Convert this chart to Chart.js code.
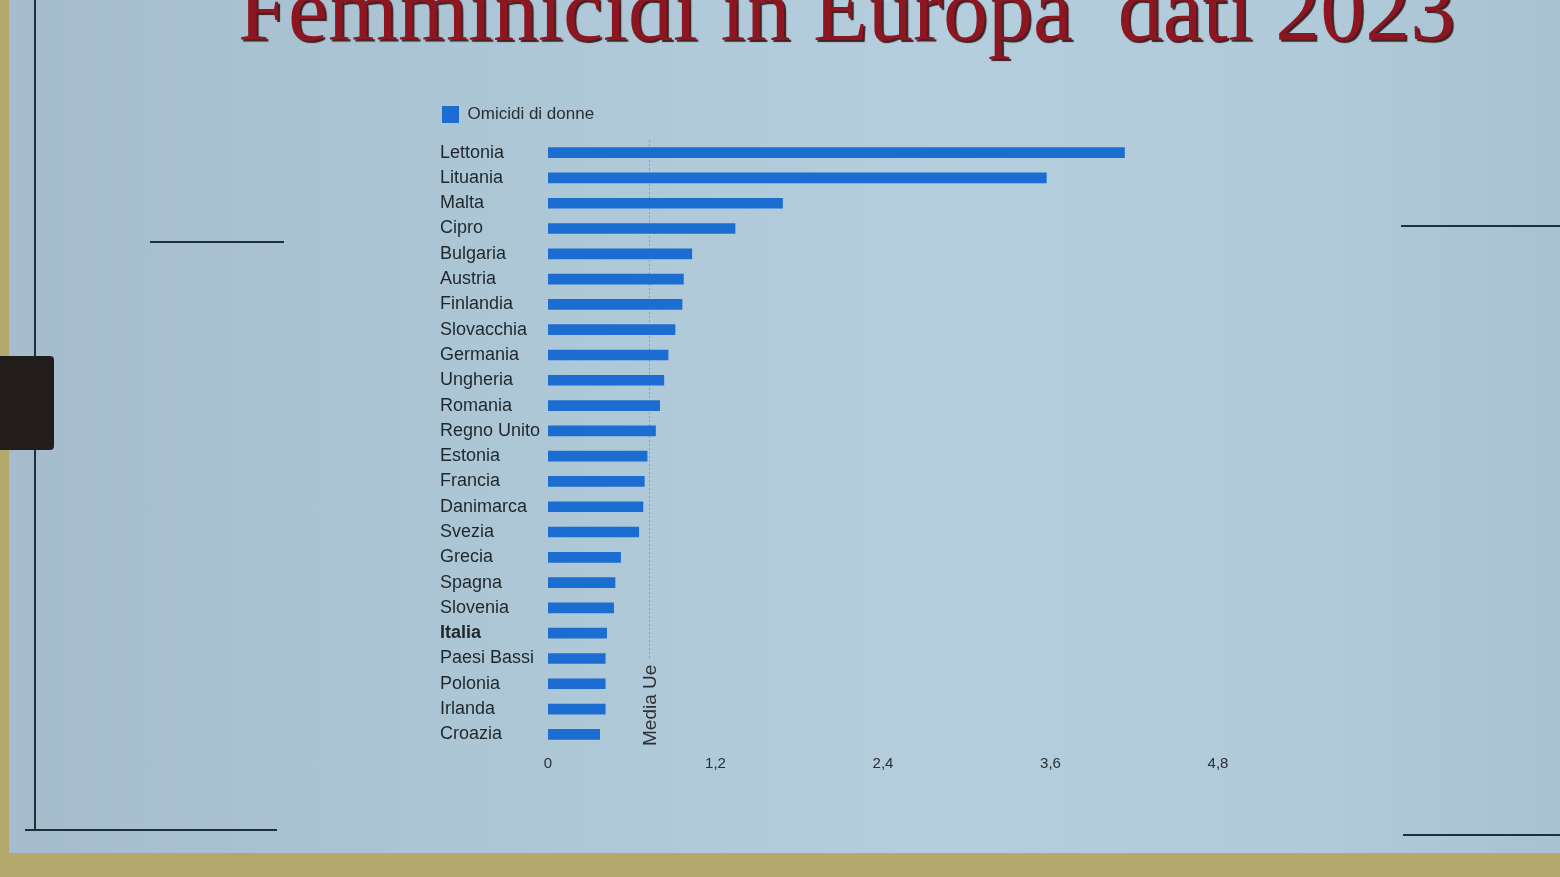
<!DOCTYPE html>
<html lang="it">
<head>
<meta charset="utf-8">
<title>Femminicidi in Europa dati 2023</title>
<script src="https://cdn.jsdelivr.net/npm/chart.js@4.4.1/dist/chart.umd.min.js"></script>
<style>
  html, body { margin: 0; padding: 0; }
  body {
    width: 1560px; height: 877px; overflow: hidden; position: relative;
    background: #b4a96c;
    font-family: "Liberation Sans", Arial, sans-serif;
  }
  /* slide as photographed */
  .slide {
    position: absolute; left: 9px; top: 0; width: 1551px; height: 853px;
    background: linear-gradient(90deg, #a4bccb 0%, #adc6d5 30%, #b4cedd 60%, #b0cad9 85%, #a9c2d1 100%);
  }
  .line { position: absolute; background: #1d3138; }
  .title {
    position: absolute; left: 238px; top: -35px; white-space: nowrap;
    font-family: "Liberation Serif", "Times New Roman", serif;
    font-size: 90px; line-height: 90px; color: #8e1620;
    text-shadow: 2px 2px 1px #3b2024;
  }
  .tab { position: absolute; left: 0; top: 356px; width: 54px; height: 94px; background: #231c1c; border-radius: 0 4px 4px 0; }
  #wrap { position: absolute; left: 440px; top: 104px; width: 800px; height: 669px; }
</style>
</head>
<body>
<div class="slide"></div>
<div class="line" style="left:34px; top:0; width:2px; height:831px;"></div>
<div class="line" style="left:25px; top:829px; width:252px; height:2px;"></div>
<div class="line" style="left:150px; top:241px; width:134px; height:2px;"></div>
<div class="line" style="left:1401px; top:225px; width:159px; height:2px;"></div>
<div class="line" style="left:1403px; top:834px; width:157px; height:2px;"></div>
<div class="tab"></div>
<div class="title">Femminicidi in Europa&nbsp; dati 2023</div>
<div id="wrap"><canvas id="chart"></canvas></div>

<script>
// paesi, dal più alto al più basso
const paesi = [
  "Lettonia", "Lituania", "Malta", "Cipro", "Bulgaria", "Austria", "Finlandia",
  "Slovacchia", "Germania", "Ungheria", "Romania", "Regno Unito", "Estonia",
  "Francia", "Danimarca", "Svezia", "Grecia", "Spagna", "Slovenia", "Italia",
  "Paesi Bassi", "Polonia", "Irlanda", "Croazia"
];

// omicidi di donne (per 100.000)
const omicidi = [
  4.13, 3.57, 1.68, 1.34, 1.03, 0.97, 0.96,
  0.91, 0.86, 0.83, 0.8, 0.77, 0.71,
  0.69, 0.68, 0.65, 0.52, 0.48, 0.47, 0.42,
  0.41, 0.41, 0.41, 0.37
];

const mediaUe = 0.72;
const xTicks = [0, 1.2, 2.4, 3.6, 4.8];

const FONT = "'Liberation Sans', Arial, sans-serif";

// linea verticale della media UE
const mediaUePlugin = {
  id: "mediaUe",
  afterDatasetsDraw(chart) {
    const { ctx, chartArea, scales } = chart;
    const x = Math.round(scales.x.getPixelForValue(mediaUe)) + 0.5;
    ctx.save();
    ctx.strokeStyle = "rgba(90, 110, 120, 0.45)";
    ctx.lineWidth = 1;
    ctx.setLineDash([2, 2]);
    ctx.beginPath();
    ctx.moveTo(x, chartArea.top);
    ctx.lineTo(x, chartArea.bottom - 88);
    ctx.stroke();
    ctx.setLineDash([]);
    ctx.translate(x + 1, chartArea.bottom - 1);
    ctx.rotate(-Math.PI / 2);
    ctx.fillStyle = "#2a2f33";
    ctx.font = "19px " + FONT;
    ctx.textAlign = "left";
    ctx.textBaseline = "middle";
    ctx.fillText("Media Ue", 0, 0);
    ctx.restore();
  }
};

// spazio extra sotto la legenda
const legendGap = {
  id: "legendGap",
  beforeInit(chart) {
    const fit = chart.legend.fit;
    chart.legend.fit = function () {
      fit.call(this);
      this.height += 7;
    };
  }
};

const fmt = v => (v === 0 ? "0" : v.toFixed(1).replace(".", ","));

new Chart(document.getElementById("chart"), {
  type: "bar",
  data: {
    labels: paesi,
    datasets: [
      {
        label: "Omicidi di donne",
        data: omicidi,
        backgroundColor: "#1b6dd2",
        borderColor: "#1b6dd2",
        barThickness: 10,
      },
    ],
  },
  options: {
    indexAxis: "y",
    responsive: true,
    maintainAspectRatio: false,
    animation: false,
    layout: { padding: { right: 22 } },
    plugins: {
      tooltip: { enabled: false },
      legend: {
        position: "top",
        align: "start",
        labels: {
          padding: 2,
          boxWidth: 17,
          boxHeight: 17,
          color: "#2a2f33",
          font: { size: 17, family: FONT },
        },
      },
    },
    scales: {
      x: {
        min: 0,
        max: 4.8,
        afterBuildTicks: scale => {
          scale.ticks = xTicks.map(v => ({ value: v }));
        },
        ticks: {
          color: "#2a2f33",
          font: { size: 15, family: FONT },
          callback: v => fmt(v),
          padding: 0,
        },
        grid: { display: false },
        border: { display: false },
      },
      y: {
        afterFit: scale => {
          scale.width = 108;
        },
        ticks: {
          crossAlign: "far",
          autoSkip: false,
          color: "#1f272c",
          font: ctx => ({
            size: 18,
            family: FONT,
            weight: paesi[ctx.index] === "Italia" ? "bold" : "normal",
          }),
        },
        grid: { display: false },
        border: { display: false },
      },
    },
  },
  plugins: [mediaUePlugin, legendGap],
});
</script>
</body>
</html>
